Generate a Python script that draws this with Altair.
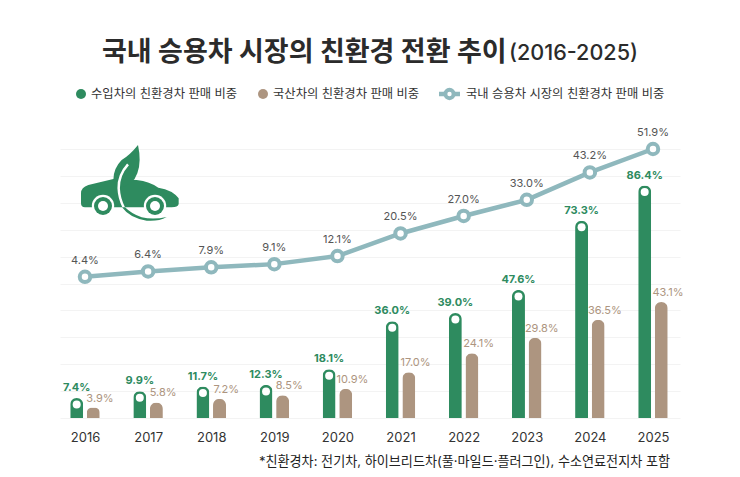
import re
import altair as alt
import pandas as pd

years = [2016, 2017, 2018, 2019, 2020, 2021, 2022, 2023, 2024, 2025]
imported = [7.4, 9.9, 11.7, 12.3, 18.1, 36.0, 39.0, 47.6, 73.3, 86.4]
domestic = [3.9, 5.8, 7.2, 8.5, 10.9, 17.0, 24.1, 29.8, 36.5, 43.1]
market = [4.4, 6.4, 7.9, 9.1, 12.1, 20.5, 27.0, 33.0, 43.2, 51.9]

title_main = "국내 승용차 시장의 친환경 전환 추이"
title_sub = "(2016-2025)"
legend_imported = "수입차의 친환경차 판매 비중"
legend_domestic = "국산차의 친환경차 판매 비중"
legend_market = "국내 승용차 시장의 친환경차 판매 비중"
footnote = "*친환경차: 전기차, 하이브리드차(풀·마일드·플러그인), 수소연료전지차 포함"

GREEN = "#2e8b5f"
TAN = "#ad9580"
TEAL = "#8fb8bd"
FONT = "Inter, 'Noto Sans CJK KR'"

W, H = 620, 269
df = pd.DataFrame({"year": years, "imported": imported, "domestic": domestic, "market": market})
for c in ["imported", "domestic", "market"]:
    df[c + "_l"] = df[c].map(lambda v: f"{v:.1f}%")

xs = alt.Scale(domain=[2015.604, 2025.428], nice=False, zero=False, padding=0)
bar_scale = alt.Scale(domain=[0, 100], nice=False)
line_scale = alt.Scale(domain=[-48.1, 51.9], nice=False, zero=False)
x_axis = alt.Axis(
    values=years, format="d", title=None, grid=False, domain=False, ticks=False,
    labelPadding=13, labelFontSize=13, labelColor="#333333", labelFont=FONT,
)
X = alt.X("year:Q", scale=xs, axis=x_axis)

base = alt.Chart(df)

def Yb(f, axis=None):
    return alt.Y(f + ":Q", scale=bar_scale, axis=axis)

def Yl(f):
    return alt.Y(f + ":Q", scale=line_scale, axis=None)

grid = base.mark_bar(opacity=0).encode(
    x=X,
    y=Yb("imported", alt.Axis(
        values=list(range(0, 101, 10)), title=None, labels=False, ticks=False, domain=False,
        grid=True, gridColor="#f3f3f3", gridWidth=1,
    )),
)

bars_i = base.mark_bar(width=13, xOffset=-8.3, color=GREEN, cornerRadiusTopLeft=6.5, cornerRadiusTopRight=6.5).encode(x=X, y=Yb("imported"))
bars_d = base.mark_bar(width=13, xOffset=8.3, color=TAN, cornerRadiusTopLeft=6.5, cornerRadiusTopRight=6.5).encode(x=X, y=Yb("domestic"))
dots_i = base.mark_point(filled=True, color="white", opacity=1, size=64, xOffset=-8.3, yOffset=6.5).encode(x=X, y=Yb("imported"))
lab_i = base.mark_text(font=FONT, fontSize=11, fontWeight="bold", color=GREEN, xOffset=-8.3, yOffset=-10).encode(x=X, y=Yb("imported"), text="imported_l:N")
lab_d = base.mark_text(font=FONT, fontSize=11, color=TAN, xOffset=15, yOffset=-9).encode(x=X, y=Yb("domestic"), text="domestic_l:N")

line = base.mark_line(color=TEAL, strokeWidth=4.5).encode(x=X, y=Yl("market"))
line_pts = base.mark_point(filled=True, fill="white", stroke=TEAL, strokeWidth=4, opacity=1, size=110).encode(x=X, y=Yl("market"))
lab_m = base.mark_text(font=FONT, fontSize=11, color="#555555", yOffset=-16).encode(x=X, y=Yl("market"), text="market_l:N")

one = alt.Chart(pd.DataFrame({"a": [0]}))

def txt(s, x, y, **kw):
    return one.mark_text(text=s, font=FONT, align=kw.pop("align", "left"), baseline="middle", **kw).encode(
        x=alt.value(x - 60), y=alt.value(y - 149))

def dot(x, y, size, color):
    return one.mark_point(filled=True, color=color, opacity=1, size=size).encode(x=alt.value(x - 60), y=alt.value(y - 149))

texts = [
    txt(title_main, 102, 53, fontSize=27, fontWeight="bold", color="#2b2b2b"),
    txt(title_sub, 509, 54, fontSize=21.6, fontWeight=500, color="#2b2b2b"),
    dot(81, 94, 100, GREEN), txt(legend_imported, 91, 94, fontSize=12.3, color="#333333"),
    dot(263, 94, 100, TAN), txt(legend_domestic, 273, 94, fontSize=12.3, color="#333333"),
    one.mark_rule(color=TEAL, strokeWidth=4.5).encode(x=alt.value(439 - 60), x2=alt.value(460 - 60), y=alt.value(94 - 149)),
    one.mark_point(filled=True, fill="white", stroke=TEAL, strokeWidth=4, opacity=1, size=70).encode(x=alt.value(449.5 - 60), y=alt.value(94 - 149)),
    txt(legend_market, 466, 94, fontSize=12.3, color="#333333"),
    txt(footnote, 670, 462, fontSize=13.1, color="#222222", align="right"),
]

def norm(p):
    nums = iter(range(10000))
    def rep(m):
        i = next(nums)
        v = float(m.group(0))
        return f"{(v - 240) / 120:.4f}" if i % 2 == 0 else f"{(v - 160) / 120:.4f}"
    return re.sub(r"-?\d+\.?\d*", rep, p)

car = norm("M93,190 Q93,172 115,165 L190,147 L260,150 Q300,155 325,173 Q368,180 386,205 L386,222 Q384,232 365,232 L105,232 Q93,232 93,220 Z")
leaf = norm("M264,45 Q275,95 262,130 Q250,165 212,172 L190,150 Q190,115 215,90 Q240,75 264,45 Z")
vein = norm("M234,103 Q205,135 206,175 Q207,205 222,234")
stem = norm("M216,232 Q240,265 290,272 Q325,275 350,261 Q310,270 275,262 Q245,252 225,232 Z")

def icon(path, **kw):
    return one.mark_point(shape=path, size=6400, opacity=1, **kw).encode(x=alt.value(70), y=alt.value(34.3))

def wheel(x, size, color):
    return one.mark_point(filled=True, color=color, opacity=1, size=size).encode(x=alt.value(x - 60), y=alt.value(206 - 149))

icons = [
    icon(car, filled=True, color=GREEN),
    icon(leaf, filled=True, color=GREEN),
    icon(vein, filled=False, color="white", strokeWidth=2.5),
    icon(stem, filled=True, color=GREEN),
]
for wx in (103, 155):
    icons += [wheel(wx, 500, "white"), wheel(wx, 324, GREEN), wheel(wx, 100, "white")]

chart = alt.layer(
    grid, *icons, line, line_pts, lab_m, bars_d, bars_i, dots_i, lab_i, lab_d, *texts,
).resolve_scale(y="independent").properties(
    width=W, height=H, background="white",
    padding={"left": 52, "top": 141, "right": 52, "bottom": 51},
    autosize=alt.AutoSizeParams(type="none"),
).configure_view(stroke=None)

chart.save("out.html", embed_options={"renderer": "svg", "actions": False})
